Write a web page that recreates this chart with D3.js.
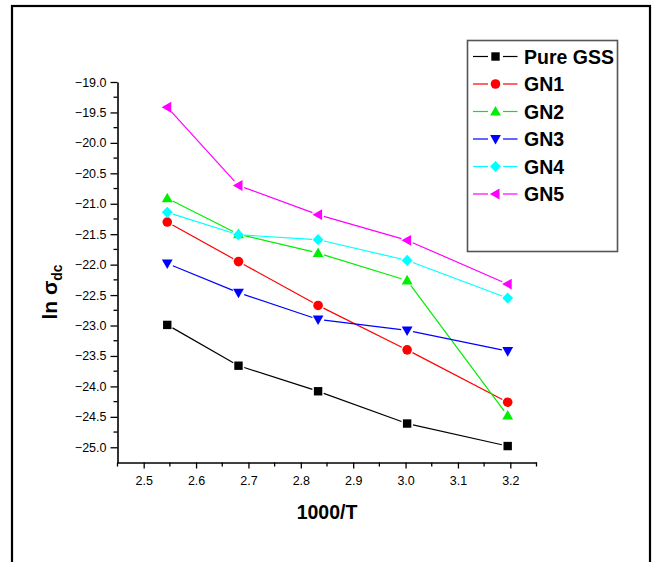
<!DOCTYPE html>
<html>
<head>
<meta charset="utf-8">
<script src="https://cdn.jsdelivr.net/npm/d3@7"></script>
<style>
  html, body { margin: 0; padding: 0; background: #fff; }
  svg { display: block; font-family: "Liberation Sans", Arial, sans-serif; }
</style>
</head>
<body>
<svg id="chart" width="655" height="562"></svg>
<script>
// Inverse temperature (1000/T) for 120, 100, 80, 60, 40 °C
const invT = [2.545, 2.681, 2.833, 3.003, 3.195];

// ln σdc for each sample
const pureGSS = [-22.99, -23.66, -24.08, -24.61, -24.98];
const gn1     = [-21.30, -21.95, -22.67, -23.40, -24.26];
const gn2     = [-20.91, -21.50, -21.81, -22.26, -24.48];
const gn3     = [-21.98, -22.46, -22.90, -23.08, -23.42];
const gn4     = [-21.14, -21.51, -21.59, -21.93, -22.55];
const gn5     = [-19.415, -20.70, -21.18, -21.60, -22.32];

const seriesNames  = ["Pure GSS", "GN1", "GN2", "GN3", "GN4", "GN5"];
const seriesValues = [pureGSS, gn1, gn2, gn3, gn4, gn5];
const seriesColors = ["#000000", "#ff0000", "#00ee00", "#0000ff", "#00ffff", "#ff00ff"];
const seriesSymbols = ["square", "circle", "triUp", "triDown", "diamond", "triLeft"];

const xMajor = [2.5, 2.6, 2.7, 2.8, 2.9, 3.0, 3.1, 3.2];
const xMinor = [2.45, 2.55, 2.65, 2.75, 2.85, 2.95, 3.05, 3.15, 3.25];
const yMajor = [-25.0, -24.5, -24.0, -23.5, -23.0, -22.5, -22.0, -21.5, -21.0, -20.5, -20.0, -19.5, -19.0];
const yMinor = [-24.75, -24.25, -23.75, -23.25, -22.75, -22.25, -21.75, -21.25, -20.75, -20.25, -19.75, -19.25];

const svg = d3.select("#chart");

// outer frame
svg.append("rect")
  .attr("x", 12).attr("y", 6).attr("width", 638).attr("height", 600)
  .attr("fill", "none").attr("stroke", "#000").attr("stroke-width", 2.2);

const x = d3.scaleLinear().domain([2.45, 3.25]).range([117.5, 536.5]);
const y = d3.scaleLinear().domain([-25.25, -19.0]).range([462.5, 82]);

// symbol path builders, centred on 0,0
function symbolPath(kind) {
  switch (kind) {
    case "square":  return "M-4.2,-4.2H4.2V4.2H-4.2Z";
    case "circle":  return d3.symbol(d3.symbolCircle, Math.PI * 4.8 * 4.8)();
    case "triUp":   return "M0,-5.6L5.4,4L-5.4,4Z";
    case "triDown": return "M0,5.6L5.4,-4L-5.4,-4Z";
    case "diamond": return "M0,-5.6L5.4,0L0,5.6L-5.4,0Z";
    case "triLeft": return "M-5.6,0L4,-5.4L4,5.4Z";
  }
}

// x axis
const xAxis = d3.axisBottom(x).tickValues(xMajor).tickFormat(d3.format(".1f")).tickSizeInner(6).tickSizeOuter(0).tickPadding(4);
const gx = svg.append("g").attr("transform", `translate(0,${y.range()[0]})`).call(xAxis);
gx.append("g").selectAll("line").data(xMinor).join("line")
  .attr("x1", d => x(d)).attr("x2", d => x(d)).attr("y1", 0).attr("y2", 4)
  .attr("stroke", "#000").attr("stroke-width", 1.3);

// y axis
const yAxis = d3.axisLeft(y).tickValues(yMajor).tickFormat(d3.format(".1f")).tickSizeInner(7).tickSizeOuter(0).tickPadding(4);
const gy = svg.append("g").attr("transform", `translate(${x.range()[0]},0)`).call(yAxis);
gy.append("g").selectAll("line").data(yMinor).join("line")
  .attr("x1", 0).attr("x2", -4).attr("y1", d => y(d)).attr("y2", d => y(d))
  .attr("stroke", "#000").attr("stroke-width", 1.3);

[gx, gy].forEach(g => {
  g.select(".domain").attr("stroke", "#000").attr("stroke-width", 1.6);
  g.selectAll(".tick line").attr("stroke", "#000").attr("stroke-width", 1.3);
  g.selectAll(".tick text").attr("fill", "#000").attr("font-size", 12.5)
    .attr("font-family", "'Liberation Sans', Arial, sans-serif");
});
gx.selectAll(".tick text").attr("dy", "1em");

// axis titles
svg.append("text")
  .attr("x", (x.range()[0] + x.range()[1]) / 2).attr("y", 519)
  .attr("text-anchor", "middle").attr("font-weight", "bold").attr("font-size", 19.5)
  .text("1000/T");

const yTitle = svg.append("text")
  .attr("transform", "translate(57,292) rotate(-90)")
  .attr("text-anchor", "middle").attr("font-weight", "bold").attr("font-size", 21);
yTitle.append("tspan").text("ln σ");
yTitle.append("tspan").attr("font-size", 14).attr("dy", 5).text("dc");

// line segments leave a small gap around each marker
const gap = 6;
function gappedSegments(pts) {
  const segs = [];
  for (let i = 0; i < pts.length - 1; i++) {
    const [x1, y1] = pts[i], [x2, y2] = pts[i + 1];
    const dx = x2 - x1, dy = y2 - y1, len = Math.hypot(dx, dy);
    const ux = dx / len, uy = dy / len;
    segs.push([x1 + ux * gap, y1 + uy * gap, x2 - ux * gap, y2 - uy * gap]);
  }
  return segs;
}

const plot = svg.append("g");
seriesValues.forEach((vals, si) => {
  const pts = vals.map((v, i) => [x(invT[i]), y(v)]);
  const g = plot.append("g");
  g.selectAll("line").data(gappedSegments(pts)).join("line")
    .attr("x1", d => d[0]).attr("y1", d => d[1]).attr("x2", d => d[2]).attr("y2", d => d[3])
    .attr("stroke", seriesColors[si]).attr("stroke-width", 1.2);
  g.selectAll("path").data(pts).join("path")
    .attr("d", symbolPath(seriesSymbols[si]))
    .attr("transform", d => `translate(${d[0]},${d[1]})`)
    .attr("fill", seriesColors[si]);
});

// legend
const legend = svg.append("g");
legend.append("rect")
  .attr("x", 467.5).attr("y", 40.5).attr("width", 150).attr("height", 211)
  .attr("fill", "#fff").attr("stroke", "#555").attr("stroke-width", 1.6);
seriesNames.forEach((name, i) => {
  const cy = 56.5 + i * 27.5;
  const row = legend.append("g");
  row.append("line").attr("x1", 473).attr("x2", 488).attr("y1", cy).attr("y2", cy)
    .attr("stroke", seriesColors[i]).attr("stroke-width", 1.2);
  row.append("line").attr("x1", 503).attr("x2", 517.5).attr("y1", cy).attr("y2", cy)
    .attr("stroke", seriesColors[i]).attr("stroke-width", 1.2);
  row.append("path").attr("d", symbolPath(seriesSymbols[i]))
    .attr("transform", `translate(495.5,${cy})`).attr("fill", seriesColors[i]);
  row.append("text").attr("x", 524).attr("y", cy + 7)
    .attr("font-weight", "bold").attr("font-size", 19.5).attr("fill", "#000")
    .text(name);
});
</script>
</body>
</html>
